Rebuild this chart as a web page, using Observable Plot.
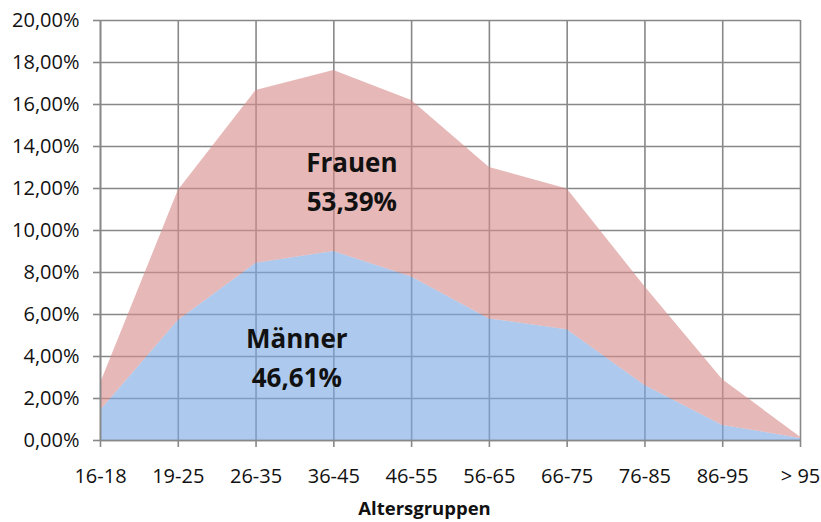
<!DOCTYPE html>
<html>
<head>
<meta charset="utf-8">
<script src="https://cdn.jsdelivr.net/npm/d3@7"></script>
<script src="https://cdn.jsdelivr.net/npm/@observablehq/plot@0.6"></script>
<style>
  html, body { margin: 0; padding: 0; background: #fff; overflow: hidden; }
  #chart svg { display: block; max-width: none; }
</style>
</head>
<body>
<div id="chart"></div>
<script>
// Age groups (x categories)
const altersgruppen = ["16-18", "19-25", "26-35", "36-45", "46-55", "56-65", "66-75", "76-85", "86-95", "> 95"];
// Share of men per age group (%)
const maenner = [1.43, 5.72, 8.44, 9.00, 7.78, 5.79, 5.27, 2.62, 0.72, 0.10];
// Share of women per age group (%)
const frauen  = [1.28, 6.18, 8.23, 8.62, 8.41, 7.21, 6.71, 4.70, 2.17, 0.06];
// Y tick values (%)
const yTicks = [0, 2, 4, 6, 8, 10, 12, 14, 16, 18, 20];
// Series names & in-chart annotations
const serien = ["Männer", "Frauen"];
const annFrauen = [{text: "Frauen\n53,39%", gruppe: "36-45", wert: 12.45}];
const annMaenner = [{text: "Männer\n46,61%", gruppe: "36-45", wert: 4.05}];
const xTitel = "Altersgruppen";

const daten = [];
altersgruppen.forEach((g, i) => {
  daten.push({gruppe: g, serie: "Männer", wert: maenner[i]});
  daten.push({gruppe: g, serie: "Frauen", wert: frauen[i]});
});

const fmt = v => v.toFixed(2).replace(".", ",") + "%";
const font = "'Open Sans', 'DejaVu Sans', sans-serif";
const annStyle = {x: "gruppe", y: "wert", text: "text", fontSize: 26, fontWeight: "bold", lineHeight: 1.5, fill: "#111"};

const chart = Plot.plot({
  width: 821,
  height: 522,
  marginLeft: 100,
  marginRight: 21,
  marginTop: 20,
  marginBottom: 82,
  style: {fontFamily: font, fontSize: "20px", color: "#111", background: "#fff"},
  x: {type: "point", domain: altersgruppen, padding: 0, round: false},
  y: {domain: [0, 20]},
  color: {domain: serien, range: ["#7ba8e2", "#d68c8b"]},
  marks: [
    Plot.gridX(altersgruppen, {stroke: "#888", strokeOpacity: 1, strokeWidth: 1.6}),
    Plot.gridY(yTicks, {stroke: "#888", strokeOpacity: 1, strokeWidth: 1.6}),
    Plot.areaY(daten, Plot.stackY({
      x: "gruppe", y: "wert", fill: "serie", z: "serie",
      order: serien, fillOpacity: 0.62, curve: "linear"
    })),
    Plot.axisX({tickSize: 7, tickPadding: 21, stroke: "#888", strokeWidth: 1.6, fontSize: 20, label: null}),
    Plot.axisY(yTicks, {tickSize: 7, tickPadding: 14, stroke: "#888", strokeWidth: 1.6, tickFormat: fmt, fontSize: 20, label: null}),
    Plot.ruleY([0], {stroke: "#888", strokeWidth: 1.6}),
    Plot.ruleX([altersgruppen[0]], {stroke: "#888", strokeWidth: 1.6}),
    Plot.text(annFrauen, {...annStyle, dx: 18}),
    Plot.text(annMaenner, {...annStyle, dx: -37}),
    Plot.text([xTitel], {
      frameAnchor: "bottom", dy: 74, dx: -26, text: d => d,
      fontSize: 18.5, fontWeight: "bold", fill: "#111"
    })
  ]
});

document.getElementById("chart").appendChild(chart);
</script>
</body>
</html>
